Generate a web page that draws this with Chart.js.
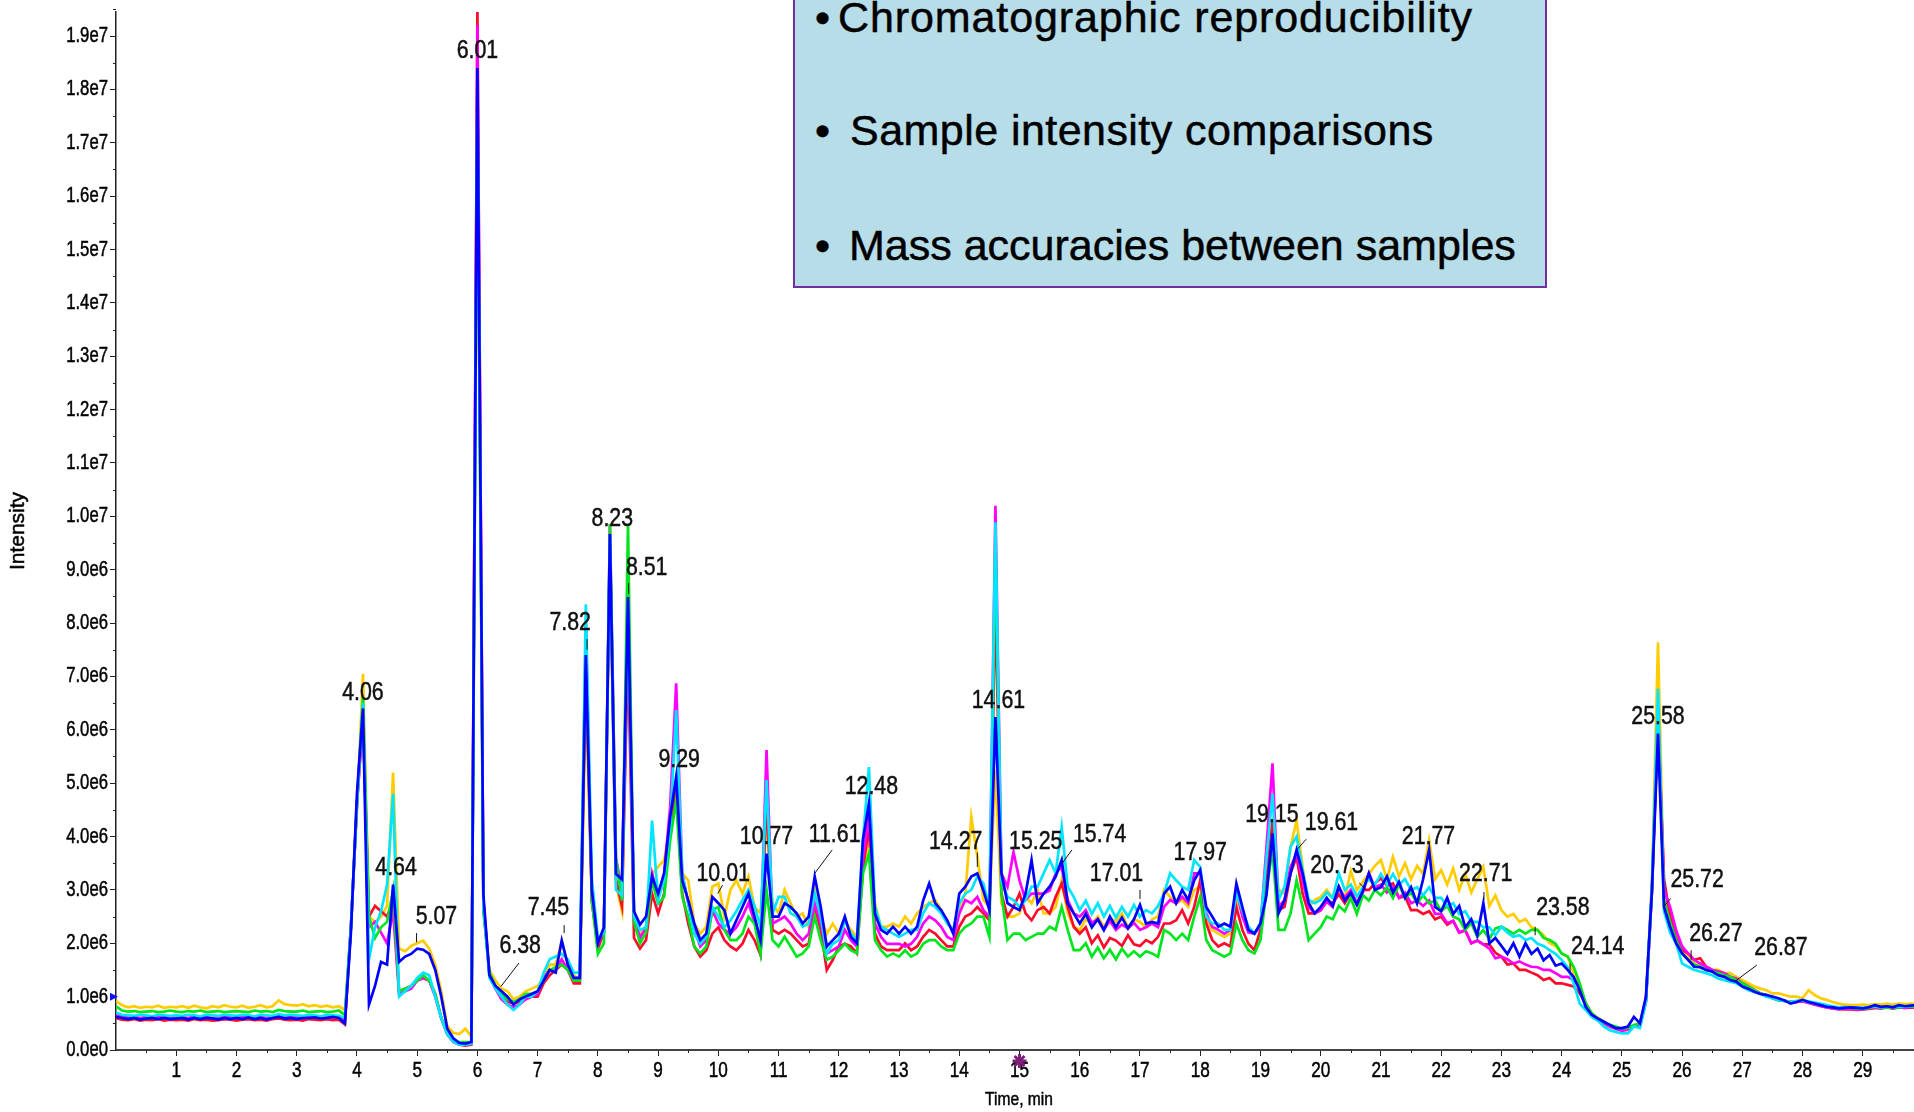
<!DOCTYPE html>
<html>
<head>
<meta charset="utf-8">
<title>Overlaid TIC chromatograms</title>
<script src="https://cdn.jsdelivr.net/npm/chart.js@4.4.1/dist/chart.umd.min.js"></script>
<style>
  html, body { margin: 0; padding: 0; background: #fff; overflow: hidden; }
  #wrap { position: relative; width: 1914px; height: 1112px; }
  #chart { position: absolute; left: 0; top: 0; }
  .notes { position: absolute; left: 793px; top: -30px; width: 750px; height: 314px;
           background: #b7dde8; border: 2px solid #7030a0;
           font-family: 'Liberation Sans', Arial, sans-serif; color: #000; }
  .notes div { position: absolute; font-size: 43px; line-height: 43px; white-space: nowrap;
               -webkit-text-stroke: 0.5px #000; }
</style>
</head>
<body>
<div id="wrap">
  <canvas id="chart" width="1914" height="1112"></canvas>
  <div class="notes">
    <div style="left:20px; top:24px;">&bull;</div>
    <div style="left:43px; top:24px; letter-spacing:0.9px;">Chromatographic reproducibility</div>
    <div style="left:20px; top:137px;">&bull;</div>
    <div style="left:55px; top:137px; letter-spacing:0.45px;">Sample intensity comparisons</div>
    <div style="left:20px; top:252px;">&bull;</div>
    <div style="left:54px; top:252px;">Mass accuracies between samples</div>
  </div>
</div>
<script>
// sampling grid, minutes (0.0 .. 29.9)
const times = Array.from({ length: 300 }, (_, i) => i / 10);

// intensities in units of 1e6 counts, one row per minute
const traceBlue = [
  0.62,0.6,0.58,0.6,0.57,0.59,0.6,0.58,0.6,0.58,
  0.59,0.6,0.57,0.6,0.58,0.6,0.59,0.57,0.6,0.58,
  0.6,0.58,0.61,0.58,0.6,0.57,0.6,0.62,0.59,0.6,
  0.58,0.6,0.6,0.61,0.59,0.6,0.62,0.6,0.5,2.2,
  4.8,6.4,0.85,1.2,1.65,1.6,3.1,1.65,1.75,1.8,
  1.9,1.88,1.8,1.5,1.0,0.4,0.22,0.13,0.12,0.15,
  18.4,2.9,1.4,1.2,1.1,1.0,0.85,0.95,1.0,1.05,
  1.1,1.3,1.5,1.45,2.05,1.6,1.35,1.35,7.4,3.0,
  2.0,2.3,9.67,3.3,3.2,8.49,2.6,2.35,2.5,3.25,
  2.93,3.31,4.37,5.12,3.18,2.81,2.37,2.06,2.18,2.87,
  2.75,2.62,2.18,2.43,2.68,2.93,2.5,2.06,3.68,2.5,
  2.5,2.75,2.68,2.56,2.37,2.5,3.25,2.68,1.94,2.06,
  2.18,2.5,2.12,2.0,3.93,4.62,2.56,2.25,2.18,2.31,
  2.18,2.31,2.18,2.31,2.8,3.12,2.75,2.62,2.43,2.18,
  2.93,3.06,3.25,3.31,2.99,2.62,6.24,3.31,2.75,2.68,
  2.62,2.93,3.56,2.75,2.93,3.06,3.25,3.56,2.75,2.56,
  2.37,2.55,2.3,2.45,2.25,2.5,2.3,2.48,2.28,2.45,
  2.72,2.37,2.4,2.37,2.93,3.06,2.75,3.0,2.81,3.18,
  3.37,2.68,2.5,2.31,2.37,2.31,3.12,2.68,2.25,2.18,
  2.37,2.9,4.06,2.56,2.81,3.31,3.75,3.31,2.75,2.56,
  2.68,2.85,2.7,3.06,2.8,2.95,2.72,2.98,3.31,3.0,
  3.05,3.25,2.95,3.15,2.85,3.05,2.75,3.2,3.75,2.68,
  2.6,2.85,2.55,2.7,2.3,2.45,2.15,2.75,2.0,2.1,
  1.95,1.8,2.0,1.75,2.0,1.8,1.9,1.68,1.78,1.58,
  1.62,1.5,1.37,1.12,0.81,0.66,0.59,0.53,0.47,0.41,
  0.41,0.44,0.62,0.5,1.0,3.0,5.93,2.68,2.31,2.0,
  1.81,1.69,1.56,1.55,1.5,1.47,1.4,1.37,1.31,1.28,
  1.19,1.15,1.09,1.05,1.03,1.0,0.97,0.93,0.87,0.9,
  0.94,0.9,0.87,0.84,0.81,0.8,0.78,0.79,0.8,0.79,
  0.78,0.8,0.84,0.81,0.82,0.8,0.84,0.82,0.83,0.84
];
const traceCyan = [
  0.7,0.66,0.65,0.64,0.66,0.65,0.63,0.66,0.65,0.64,
  0.65,0.64,0.66,0.65,0.63,0.66,0.65,0.64,0.66,0.65,
  0.64,0.66,0.65,0.63,0.66,0.65,0.64,0.67,0.65,0.66,
  0.65,0.64,0.66,0.65,0.63,0.66,0.65,0.64,0.6,2.3,
  4.6,6.5,1.7,2.3,2.6,3.1,4.8,1.0,1.1,1.2,
  1.35,1.45,1.4,1.0,0.6,0.3,0.15,0.1,0.1,0.12,
  18.0,2.7,1.35,1.15,1.0,0.85,0.75,0.85,1.0,1.0,
  1.1,1.45,1.7,1.75,1.8,1.7,1.45,1.45,8.35,3.2,
  2.1,2.2,9.6,3.0,2.9,8.3,2.5,2.25,2.3,4.3,
  2.81,3.18,4.18,6.37,3.31,2.75,2.18,1.99,2.12,2.68,
  2.5,2.3,2.43,2.6,2.81,3.0,2.7,2.3,5.06,2.56,
  2.87,2.87,2.56,2.5,2.31,2.37,2.93,2.5,1.81,1.99,
  2.06,2.43,2.18,2.06,3.93,5.3,2.68,2.31,2.25,2.18,
  2.12,2.18,2.25,2.25,2.56,2.75,2.68,2.56,2.37,2.25,
  2.75,2.93,3.0,3.25,3.12,2.68,9.89,3.18,2.87,2.81,
  2.68,2.81,3.06,3.06,3.31,3.56,3.31,4.18,3.06,2.87,
  2.62,2.8,2.55,2.75,2.5,2.7,2.48,2.68,2.5,2.72,
  2.5,2.62,2.56,2.7,2.93,3.31,3.18,3.06,3.0,3.56,
  3.43,2.5,2.37,2.37,2.25,2.25,2.93,2.62,2.31,2.18,
  2.37,3.6,4.8,2.81,3.06,3.81,4.0,3.37,2.81,2.75,
  2.81,2.95,2.85,3.31,3.0,3.1,2.88,3.05,3.2,3.1,
  3.3,3.1,3.3,3.1,3.2,3.0,3.05,2.9,3.05,2.85,
  2.85,2.7,2.75,2.55,2.6,2.4,2.4,2.3,2.3,2.15,
  2.31,2.2,2.12,2.15,2.06,2.1,1.99,1.95,1.87,1.8,
  1.69,1.55,1.25,0.87,0.75,0.62,0.55,0.44,0.37,0.34,
  0.31,0.31,0.44,0.41,0.9,3.1,6.77,2.6,2.2,2.0,
  1.62,1.56,1.5,1.47,1.44,1.4,1.34,1.31,1.28,1.25,
  1.19,1.12,1.09,1.05,1.0,0.97,0.94,0.92,0.9,0.92,
  0.93,0.91,0.89,0.87,0.84,0.82,0.8,0.81,0.8,0.8,
  0.79,0.81,0.82,0.8,0.82,0.81,0.82,0.81,0.83,0.82
];
const traceGreen = [
  0.82,0.74,0.72,0.73,0.71,0.72,0.73,0.71,0.72,0.74,
  0.72,0.71,0.73,0.72,0.74,0.71,0.72,0.73,0.71,0.72,
  0.73,0.72,0.71,0.74,0.72,0.73,0.71,0.75,0.73,0.72,
  0.72,0.74,0.71,0.72,0.73,0.71,0.72,0.74,0.65,2.3,
  4.6,6.6,2.5,2.1,2.3,2.4,3.0,1.1,1.15,1.2,
  1.3,1.4,1.3,1.05,0.6,0.3,0.18,0.15,0.15,0.15,
  17.8,2.6,1.45,1.2,1.05,0.95,0.9,0.95,1.05,1.05,
  1.1,1.3,1.5,1.55,1.6,1.5,1.3,1.3,7.7,2.8,
  1.8,2.0,9.85,3.6,2.8,9.85,2.4,2.0,2.2,3.18,
  2.74,2.87,3.93,4.68,2.87,2.5,1.94,1.81,1.94,2.62,
  2.68,2.25,2.06,2.06,2.18,2.5,2.37,1.8,3.0,2.06,
  1.94,2.12,1.94,1.75,1.81,1.94,2.5,2.06,1.69,1.75,
  1.87,1.99,1.87,1.81,3.31,3.68,2.06,1.87,1.75,1.81,
  1.75,1.87,1.75,1.81,1.99,2.06,2.06,1.94,1.87,1.87,
  2.18,2.31,2.37,2.5,2.5,2.12,9.6,2.93,2.06,2.18,
  2.18,2.06,2.12,2.18,2.18,2.31,2.25,2.68,2.25,1.87,
  1.87,2.0,1.75,1.92,1.72,1.88,1.7,1.9,1.75,1.85,
  1.75,1.85,1.81,1.75,2.25,2.18,2.06,2.18,2.06,2.5,
  2.87,2.06,1.87,1.81,1.75,1.81,2.37,2.06,1.87,1.81,
  2.06,3.0,3.75,2.25,2.25,2.56,3.18,2.68,2.06,2.18,
  2.3,2.5,2.45,2.7,2.6,2.85,2.55,2.9,2.8,3.0,
  2.9,3.05,2.85,3.1,2.85,2.95,2.75,2.9,2.75,2.8,
  2.6,2.7,2.5,2.45,2.25,2.38,2.12,2.25,2.08,2.28,
  2.31,2.25,2.18,2.25,2.18,2.25,2.25,2.1,2.06,1.99,
  1.81,1.75,1.56,1.25,0.87,0.69,0.59,0.53,0.47,0.44,
  0.4,0.42,0.47,0.5,0.95,3.0,6.3,2.8,2.4,2.06,
  1.81,1.69,1.6,1.56,1.5,1.47,1.44,1.4,1.37,1.31,
  1.25,1.19,1.12,1.06,1.03,0.97,0.93,0.92,0.9,0.91,
  0.93,0.9,0.87,0.84,0.82,0.8,0.78,0.8,0.79,0.78,
  0.77,0.79,0.81,0.79,0.8,0.79,0.8,0.81,0.82,0.8
];
const traceMagenta = [
  0.65,0.62,0.61,0.63,0.6,0.62,0.61,0.63,0.6,0.62,
  0.61,0.62,0.6,0.63,0.61,0.62,0.6,0.61,0.63,0.62,
  0.6,0.62,0.63,0.61,0.62,0.6,0.63,0.64,0.62,0.61,
  0.62,0.6,0.63,0.62,0.61,0.63,0.61,0.62,0.55,2.3,
  4.6,6.3,2.3,2.4,2.2,2.0,2.6,1.05,1.1,1.15,
  1.3,1.35,1.3,1.0,0.6,0.3,0.15,0.1,0.1,0.12,
  19.2,2.7,1.4,1.15,0.95,0.85,0.8,0.85,0.95,1.0,
  1.05,1.35,1.5,1.5,1.7,1.5,1.3,1.3,8.0,2.8,
  2.0,2.2,9.85,3.6,3.0,8.8,2.5,2.1,2.3,3.31,
  2.87,3.31,4.56,6.87,3.31,2.75,2.25,1.94,2.06,2.62,
  2.37,2.25,2.18,2.3,2.5,2.75,2.4,2.0,5.62,2.37,
  2.43,2.5,2.37,2.18,2.06,2.18,2.75,2.37,1.81,1.87,
  1.94,2.25,2.06,1.94,3.6,4.43,2.37,2.12,1.99,1.99,
  1.99,1.94,1.99,2.12,2.37,2.5,2.43,2.31,2.12,2.06,
  2.56,2.81,2.75,2.87,2.62,2.5,10.2,3.31,3.06,3.71,
  3.18,2.81,2.93,2.93,2.93,2.99,3.31,3.43,2.81,2.56,
  2.5,2.62,2.38,2.45,2.25,2.42,2.25,2.35,2.28,2.38,
  2.25,2.3,2.37,2.3,2.68,2.81,2.75,2.87,2.75,3.31,
  3.31,2.56,2.31,2.25,2.18,2.25,3.0,2.5,2.2,2.18,
  2.31,3.8,5.37,2.68,2.81,3.43,3.68,3.18,2.68,2.56,
  2.62,2.78,2.68,3.06,2.85,3.0,2.75,2.95,3.31,3.05,
  3.1,2.95,3.05,2.85,2.95,2.75,2.8,2.7,2.8,2.55,
  2.55,2.38,2.42,2.2,2.25,2.0,2.05,1.98,1.9,1.72,
  1.75,1.7,1.62,1.66,1.6,1.56,1.55,1.5,1.5,1.44,
  1.37,1.37,1.31,1.19,0.87,0.66,0.56,0.5,0.44,0.4,
  0.36,0.38,0.44,0.45,0.9,3.0,6.4,3.0,2.68,2.25,
  1.94,1.81,1.69,1.62,1.56,1.5,1.47,1.44,1.37,1.34,
  1.25,1.19,1.12,1.06,1.03,0.98,0.94,0.92,0.9,0.9,
  0.91,0.88,0.85,0.82,0.8,0.78,0.76,0.78,0.77,0.76,
  0.76,0.78,0.8,0.78,0.8,0.78,0.8,0.79,0.81,0.8
];
const traceRed = [
  0.6,0.57,0.56,0.58,0.55,0.57,0.56,0.58,0.55,0.57,
  0.56,0.57,0.55,0.58,0.56,0.57,0.55,0.56,0.58,0.57,
  0.55,0.57,0.58,0.56,0.57,0.55,0.58,0.59,0.57,0.56,
  0.57,0.55,0.58,0.57,0.56,0.58,0.56,0.57,0.48,2.3,
  4.6,6.2,2.5,2.7,2.6,2.5,2.8,1.1,1.15,1.2,
  1.3,1.35,1.3,1.05,0.6,0.3,0.15,0.1,0.08,0.1,
  19.45,2.8,1.4,1.15,1.0,0.9,0.88,0.9,0.95,1.0,
  1.0,1.25,1.4,1.5,1.6,1.5,1.25,1.25,7.3,2.8,
  1.9,2.2,9.5,3.2,2.7,7.5,2.1,1.9,2.06,2.93,
  2.56,2.93,4.18,4.93,2.93,2.37,1.94,1.75,1.87,2.18,
  2.3,2.06,1.94,1.87,1.99,2.25,2.06,1.78,4.74,2.25,
  2.18,2.25,2.18,2.06,1.94,1.99,2.68,2.25,1.5,1.69,
  1.94,1.99,1.94,1.81,3.4,4.18,2.18,1.94,1.87,1.87,
  1.87,2.0,1.87,1.94,2.12,2.25,2.18,2.06,1.94,1.94,
  2.31,2.5,2.56,2.68,2.56,2.43,8.5,2.93,2.5,2.68,
  2.93,2.56,2.43,2.62,2.68,2.56,2.87,3.12,2.68,2.31,
  2.18,2.3,2.0,2.15,1.92,2.1,2.05,1.95,2.15,1.98,
  1.95,2.06,2.0,2.12,2.37,2.37,2.43,2.62,2.37,2.68,
  3.18,2.37,2.06,1.94,2.0,1.94,2.68,2.25,1.99,1.87,
  2.25,3.2,4.3,2.62,2.68,3.31,3.62,2.93,2.56,2.56,
  2.62,2.8,2.75,2.92,2.75,2.95,2.75,3.0,3.0,3.12,
  3.22,3.08,3.12,2.85,2.88,2.62,2.62,2.55,2.6,2.45,
  2.5,2.35,2.42,2.2,2.24,2.0,2.05,1.98,1.98,1.82,
  1.75,1.6,1.62,1.5,1.5,1.45,1.4,1.31,1.35,1.25,
  1.25,1.22,1.19,1.06,0.87,0.66,0.56,0.5,0.44,0.4,
  0.37,0.4,0.45,0.45,0.92,3.0,6.2,3.2,2.5,2.1,
  1.87,1.81,1.69,1.72,1.56,1.5,1.47,1.44,1.37,1.31,
  1.25,1.19,1.12,1.06,1.03,0.97,0.94,0.92,0.9,0.9,
  0.92,0.89,0.86,0.83,0.8,0.78,0.77,0.76,0.76,0.75,
  0.76,0.77,0.79,0.78,0.8,0.78,0.8,0.79,0.8,0.79
];
const traceYellow = [
  0.92,0.84,0.8,0.82,0.79,0.81,0.8,0.83,0.79,0.81,
  0.8,0.82,0.79,0.83,0.8,0.78,0.82,0.8,0.84,0.81,
  0.8,0.83,0.79,0.81,0.84,0.8,0.82,0.93,0.86,0.84,
  0.83,0.86,0.82,0.84,0.81,0.83,0.8,0.82,0.75,2.3,
  4.5,7.05,2.5,2.4,2.5,2.7,5.2,1.9,1.85,1.95,
  2.0,2.05,1.9,1.6,1.1,0.45,0.32,0.3,0.4,0.25,
  17.3,2.6,1.5,1.3,1.15,1.1,0.95,1.0,1.1,1.15,
  1.2,1.35,1.6,1.6,2.05,1.6,1.4,1.3,6.5,2.8,
  2.1,2.2,9.4,3.1,2.6,8.0,2.5,2.2,2.3,3.3,
  3.43,3.56,4.18,4.68,3.31,3.18,2.37,2.18,2.31,3.06,
  3.12,2.5,3.0,3.18,2.93,3.25,2.68,2.56,4.3,2.75,
  2.56,3.0,2.75,2.5,2.56,2.31,3.0,2.5,2.18,2.37,
  2.18,2.43,2.25,2.12,3.31,4.0,2.75,2.31,2.31,2.37,
  2.31,2.5,2.37,2.56,2.68,2.75,2.81,2.62,2.37,2.25,
  2.68,2.93,4.37,3.62,2.81,2.68,5.24,2.75,2.5,2.5,
  2.56,2.87,2.75,3.0,2.56,2.56,2.68,3.18,2.56,2.31,
  2.25,2.45,2.35,2.5,2.3,2.48,2.4,2.56,2.3,2.45,
  2.4,2.3,2.45,2.5,3.0,2.87,2.75,2.81,2.68,3.0,
  3.06,2.43,2.25,2.18,2.12,2.18,2.81,2.56,2.25,2.18,
  2.31,3.3,4.18,3.0,2.93,3.81,4.3,3.43,2.68,2.81,
  2.87,3.0,2.85,3.06,2.85,3.35,3.0,3.15,3.3,3.45,
  3.56,3.2,3.62,3.25,3.5,3.2,3.45,3.3,3.93,3.2,
  3.37,3.1,3.4,3.0,3.3,2.95,3.2,3.43,2.7,2.9,
  2.62,2.5,2.55,2.4,2.45,2.3,2.25,2.15,2.0,1.95,
  1.81,1.75,1.44,1.12,0.87,0.69,0.6,0.53,0.45,0.42,
  0.37,0.38,0.45,0.5,0.94,3.2,7.64,2.9,2.55,2.06,
  1.87,1.75,1.62,1.56,1.56,1.5,1.5,1.44,1.44,1.37,
  1.31,1.25,1.19,1.15,1.12,1.06,1.06,1.03,1.0,1.0,
  0.97,1.12,1.03,0.97,0.94,0.9,0.87,0.85,0.84,0.84,
  0.85,0.84,0.86,0.85,0.87,0.85,0.87,0.86,0.87,0.86
];

const xTickValues = [1,2,3,4,5,6,7,8,9,10,11,12,13,14,15,16,17,18,19,20,21,22,23,24,25,26,27,28,29];
const xTickLabels = xTickValues.map(String);
const yTickValues = [0,1,2,3,4,5,6,7,8,9,10,11,12,13,14,15,16,17,18,19];
const yTickLabels = ['0.0e0','1.0e6','2.0e6','3.0e6','4.0e6','5.0e6','6.0e6','7.0e6','8.0e6','9.0e6',
                     '1.0e7','1.1e7','1.2e7','1.3e7','1.4e7','1.5e7','1.6e7','1.7e7','1.8e7','1.9e7'];

// peak annotations: text, label centre (min, 1e6), optional leader line [t1, v1, t2, v2]
const peakText = ['6.01','8.23','8.51','7.82','4.06','14.61','25.58','9.29','12.48','15.74','10.77',
  '11.61','14.27','15.25','19.15','19.61','17.97','21.77','4.64','10.01','17.01','20.73','22.71',
  '25.72','5.07','7.45','23.58','6.38','26.27','24.14','26.87'];
const peakLabelTime = [6.0,8.24,8.81,7.54,4.1,14.65,25.6,9.35,12.54,16.33,10.8,
  11.93,13.94,15.27,19.19,20.18,18.0,21.79,4.65,10.08,16.61,20.27,22.74,
  26.25,5.32,7.18,24.02,6.71,26.56,24.6,27.64];
const peakLabelLevel = [18.73,9.96,9.03,8.0,6.7,6.54,6.24,5.43,4.93,4.03,3.99,
  4.04,3.91,3.91,4.4,4.25,3.69,4.0,3.41,3.31,3.31,3.46,3.3,
  3.18,2.49,2.66,2.66,1.95,2.17,1.93,1.91];
const peakLeader = [null,null,[8.51,8.75,8.51,8.55],[7.82,7.7,7.82,7.5],null,null,null,null,null,
  [15.87,3.75,15.71,3.5],null,[11.89,3.75,11.6,3.31],[14.3,3.7,14.3,3.43],null,null,
  [19.76,3.95,19.61,3.76],null,null,null,[10.07,3.09,9.99,2.93],[17.0,3.0,17.0,2.83],
  [20.64,3.13,20.76,3.0],[22.71,2.96,22.71,2.81],[25.81,2.84,25.69,2.68],[4.99,2.19,4.99,2.02],
  [7.44,2.34,7.44,2.19],[23.56,2.31,23.56,2.15],[6.69,1.63,6.39,1.19],[26.15,1.87,26.15,1.69],
  [24.14,1.62,24.14,1.47],[27.24,1.59,26.87,1.28]];

const traces = [
  { name: 'Sample 6', values: traceBlue, color: '#0000ff' },
  { name: 'Sample 5', values: traceCyan, color: '#00e5ff' },
  { name: 'Sample 4', values: traceGreen, color: '#00e61e' },
  { name: 'Sample 3', values: traceMagenta, color: '#ff00ff' },
  { name: 'Sample 2', values: traceRed, color: '#ff0a2a' },
  { name: 'Sample 1', values: traceYellow, color: '#ffcc00' }
];

const baseFont = "'Liberation Sans', Arial, sans-serif";

// the instrument software uses a condensed face, so squeeze text horizontally
function squeezedText(ctx, str, px, py, size, squeeze, align) {
  ctx.save();
  ctx.translate(px, py);
  ctx.scale(squeeze, 1);
  ctx.font = size + 'px ' + baseFont;
  ctx.textAlign = align;
  ctx.textBaseline = 'middle';
  ctx.lineWidth = 0.5;
  ctx.strokeStyle = ctx.fillStyle;
  ctx.fillText(str, 0, 0);
  ctx.strokeText(str, 0, 0);
  ctx.restore();
}

const overlay = {
  id: 'overlay',
  afterDraw(chart) {
    const { ctx, chartArea: area, scales: { x, y } } = chart;
    ctx.save();

    // minor ticks
    ctx.strokeStyle = '#222';
    ctx.lineWidth = 1;
    ctx.beginPath();
    xTickValues.concat([30]).forEach(v => {
      const px = Math.round(x.getPixelForValue(v - 0.5)) + 0.5;
      ctx.moveTo(px, area.bottom); ctx.lineTo(px, area.bottom + 3);
    });
    yTickValues.forEach(v => {
      const py = Math.round(y.getPixelForValue(v + 0.5)) + 0.5;
      ctx.moveTo(area.left, py); ctx.lineTo(area.left - 3, py);
    });
    ctx.stroke();

    // tick labels
    ctx.fillStyle = '#000';
    xTickValues.forEach((v, i) => squeezedText(ctx, xTickLabels[i], x.getPixelForValue(v), area.bottom + 21, 22, 0.78, 'center'));
    yTickValues.forEach((v, i) => squeezedText(ctx, yTickLabels[i], area.left - 8, y.getPixelForValue(v), 22, 0.76, 'right'));

    // peak labels and leaders
    ctx.fillStyle = '#111';
    peakText.forEach((t, i) => {
      squeezedText(ctx, t, x.getPixelForValue(peakLabelTime[i]), y.getPixelForValue(peakLabelLevel[i]), 26, 0.82, 'center');
      const ld = peakLeader[i];
      if (ld) {
        ctx.strokeStyle = '#111';
        ctx.lineWidth = 1;
        ctx.beginPath();
        ctx.moveTo(x.getPixelForValue(ld[0]), y.getPixelForValue(ld[1]));
        ctx.lineTo(x.getPixelForValue(ld[2]), y.getPixelForValue(ld[3]));
        ctx.stroke();
      }
    });

    // axis titles
    ctx.fillStyle = '#000';
    squeezedText(ctx, 'Time, min', (area.left + area.right) / 2 + 4, area.bottom + 50, 19, 0.82, 'center');
    ctx.save();
    ctx.translate(18, (area.top + area.bottom) / 2);
    ctx.rotate(-Math.PI / 2);
    squeezedText(ctx, 'Intensity', 0, 0, 21, 1, 'center');
    ctx.restore();

    // blue marker on the y axis and purple marker at 15 min
    const my = y.getPixelForValue(1);
    ctx.fillStyle = '#1010ff';
    ctx.beginPath();
    ctx.moveTo(area.left - 6, my - 4); ctx.lineTo(area.left + 2, my); ctx.lineTo(area.left - 6, my + 4);
    ctx.closePath(); ctx.fill();

    const sx = x.getPixelForValue(15), sy = area.bottom + 11;
    ctx.strokeStyle = '#7b1f78';
    ctx.lineWidth = 3;
    ctx.beginPath();
    for (let k = 0; k < 4; k++) {
      const a = k * Math.PI / 4;
      ctx.moveTo(sx - 7 * Math.cos(a), sy - 7 * Math.sin(a));
      ctx.lineTo(sx + 7 * Math.cos(a), sy + 7 * Math.sin(a));
    }
    ctx.stroke();
    ctx.restore();
  }
};

new Chart(document.getElementById('chart'), {
  type: 'line',
  data: {
    datasets: traces.map(tr => ({
      label: tr.name,
      data: times.map((t, i) => ({ x: t, y: tr.values[i] })),
      borderColor: tr.color,
      borderWidth: 2.7,
      pointRadius: 0,
      tension: 0,
      fill: false
    }))
  },
  options: {
    responsive: false,
    animation: false,
    events: [],
    layout: { padding: { top: 12, right: 0, bottom: 0, left: 0 } },
    plugins: { legend: { display: false }, tooltip: { enabled: false } },
    scales: {
      x: {
        type: 'linear', min: 0, max: 29.85,
        afterFit: s => { s.height = 62; },
        afterBuildTicks: s => { s.ticks = xTickValues.map(v => ({ value: v })); },
        ticks: { display: false },
        grid: { drawOnChartArea: false, drawTicks: true, tickLength: 6, color: '#222' },
        border: { display: true, color: '#444', width: 2 }
      },
      y: {
        type: 'linear', min: 0, max: 19.45,
        afterFit: s => { s.width = 116; },
        afterBuildTicks: s => { s.ticks = yTickValues.map(v => ({ value: v })); },
        ticks: { display: false },
        grid: { drawOnChartArea: false, drawTicks: true, tickLength: 6, color: '#222' },
        border: { display: true, color: '#222', width: 1.5 }
      }
    }
  },
  plugins: [overlay]
});
</script>
</body>
</html>
